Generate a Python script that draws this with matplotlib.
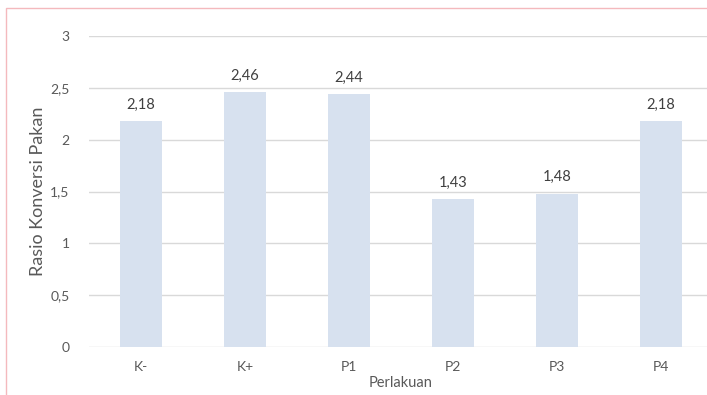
import matplotlib
matplotlib.use("Agg")
import matplotlib.pyplot as plt
from matplotlib.patches import Rectangle

categories = ["K-", "K+", "P1", "P2", "P3", "P4"]
values = [2.18, 2.46, 2.44, 1.43, 1.48, 2.18]
y_ticks = [0, 0.5, 1, 1.5, 2, 2.5, 3]
y_tick_labels = ["0", "0,5", "1", "1,5", "2", "2,5", "3"]

plt.rcParams["font.family"] = ["Lato", "DejaVu Sans"]
text_color = "#595959"

fig = plt.figure(figsize=(7.07, 3.95), dpi=100)
ax = fig.add_axes([89 / 707, 48 / 395, 624 / 707, 311 / 395])

x = range(len(categories))
ax.bar(x, values, width=0.4, color="#d7e1ef", zorder=2)
for xi, v in zip(x, values):
    ax.text(xi, v + 0.09, f"{v:.2f}".replace(".", ","), ha="center", va="bottom",
            fontsize=10.5, color="#404040")

ax.set_xlim(-0.5, len(categories) - 0.5)
ax.set_ylim(0, 3)
ax.set_yticks(y_ticks)
ax.set_yticklabels(y_tick_labels)
ax.set_xticks(list(x))
ax.set_xticklabels(categories)
ax.tick_params(axis="both", length=0, labelsize=10, colors=text_color)
ax.tick_params(axis="y", pad=14)
ax.tick_params(axis="x", pad=10)
ax.grid(axis="y", color="#d9d9d9", linewidth=1, zorder=0)
for s in ax.spines.values():
    s.set_visible(False)

ax.set_xlabel("Perlakuan", fontsize=10.5, color=text_color, labelpad=2)
ax.set_ylabel("Rasio Konversi Pakan", fontsize=13, color=text_color, labelpad=3)

# outer frame of the chart area
fig.patches.append(Rectangle((6 / 707, -0.05), 1.0, (395 - 8) / 395 + 0.05,
                             transform=fig.transFigure, fill=False,
                             edgecolor="#f4b9bd", linewidth=1))

fig.savefig("out.png", dpi=100)
